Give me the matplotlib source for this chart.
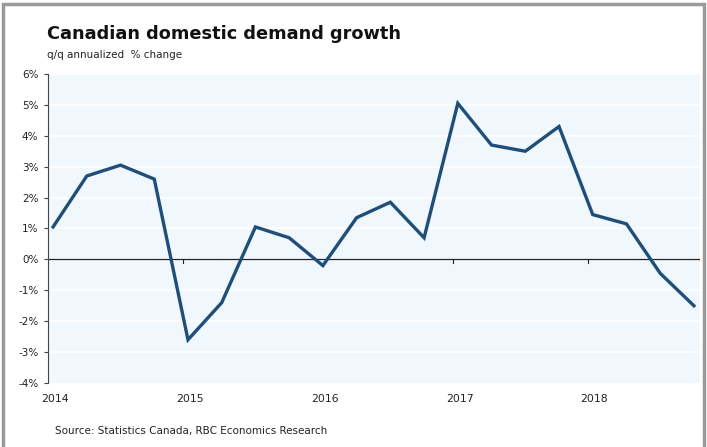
import matplotlib.pyplot as plt
import numpy as np
from matplotlib.patches import Rectangle

# quarterly q/q annualized % change, 2014Q1 .. 2018Q4
quarters = ["2014Q1", "2014Q2", "2014Q3", "2014Q4",
            "2015Q1", "2015Q2", "2015Q3", "2015Q4",
            "2016Q1", "2016Q2", "2016Q3", "2016Q4",
            "2017Q1", "2017Q2", "2017Q3", "2017Q4",
            "2018Q1", "2018Q2", "2018Q3", "2018Q4"]
growth = [1.05, 2.7, 3.05, 2.6,
          -2.6, -1.4, 1.05, 0.7,
          -0.2, 1.35, 1.85, 0.7,
          5.05, 3.7, 3.5, 4.3,
          1.45, 1.15, -0.45, -1.5]
year_labels = ["2014", "2015", "2016", "2017", "2018"]
yticks = [-4, -3, -2, -1, 0, 1, 2, 3, 4, 5, 6]

plt.rcParams['font.family'] = ['DejaVu Sans']

fig = plt.figure(figsize=(7.07, 4.47), dpi=100)
ax = fig.add_axes([48/707, 1 - 383/447, (700-48)/707, (383-74)/447])

x = np.arange(len(growth))
ax.set_facecolor('#f0f7fd')
for v in yticks[1:]:
    ax.axhline(v, color='white', lw=1.2, zorder=1)
ax.axhline(0, color='#222222', lw=0.9, zorder=2)
ax.plot(x, growth, color='#1f4e79', lw=2.4, zorder=3, solid_joinstyle='miter')

ax.set_xlim(-0.15, 19.18)
ax.set_ylim(-4, 6)
ax.set_yticks(yticks)
ax.set_yticklabels([f"{v}%" for v in yticks], fontsize=7.5, color='#222222')
ax.tick_params(axis='y', direction='out', length=3, width=0.8, color='#444444', pad=4)

# year ticks sit on the zero line, labels sit under the chart
ax.set_xticks([])
for i, lab in enumerate(year_labels):
    xi = i * 4
    ax.plot([xi - 0.15, xi - 0.15], [0, -0.12], color='#222222', lw=0.8, zorder=2)
    ax.text(xi + 0.05, -4.35, lab, ha='center', va='top', fontsize=7.8, color='#222222')

for s in ['top', 'right', 'bottom']:
    ax.spines[s].set_visible(False)
ax.spines['left'].set_color('#444444')
ax.spines['left'].set_linewidth(0.8)

fig.text(47/707, 1 - 39/447, "Canadian domestic demand growth", fontsize=12.8,
         fontweight='bold', color='#111111', va='baseline')
fig.text(47/707, 1 - 58/447, "q/q annualized  % change", fontsize=7.5,
         color='#222222', va='baseline')
fig.text(55/707, 1 - 434/447, "Source: Statistics Canada, RBC Economics Research",
         fontsize=7.5, color='#222222', va='baseline')

fig.patches.append(Rectangle((0.004, -0.01), 0.992, 1.0, transform=fig.transFigure,
                             fill=False, edgecolor='#999999', lw=2.5))

fig.savefig("out.png", dpi=100)
